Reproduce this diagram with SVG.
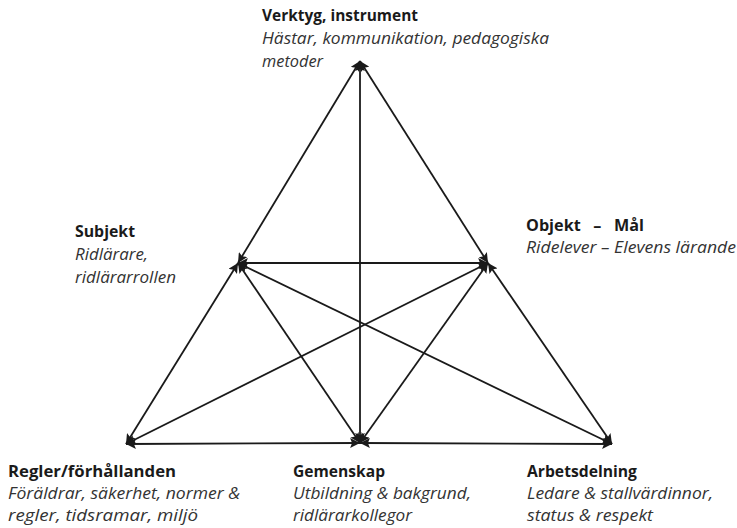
<svg xmlns="http://www.w3.org/2000/svg" width="737" height="528" viewBox="0 0 737 528">
<style>
text{font-family:"Open Sans","Noto Sans","Liberation Sans",sans-serif;font-size:15.5px;fill:#1a1a1a}
.b{font-weight:bold}
.i{font-style:italic;fill:#333}
.c line{stroke:#1a1a1a;stroke-width:1.8;marker-start:url(#ah);marker-end:url(#ah)}
</style>
<defs>
<marker id="ah" viewBox="0 0 10 10" refX="10" refY="5" markerWidth="5.5" markerHeight="5.5" orient="auto-start-reverse" markerUnits="strokeWidth">
<path d="M0,0 L10,5 L0,10 L2,5 Z" fill="#1a1a1a"/>
</marker>
</defs>
<g id="connectors" class="c">
<line x1="360" y1="61" x2="238" y2="263"/>
<line x1="360" y1="61" x2="488" y2="263"/>
<line x1="360" y1="61" x2="360" y2="443"/>
<line x1="238" y1="263" x2="488" y2="263"/>
<line x1="238" y1="263" x2="126" y2="444"/>
<line x1="238" y1="263" x2="360" y2="443"/>
<line x1="238" y1="263" x2="612" y2="444"/>
<line x1="488" y1="263" x2="126" y2="444"/>
<line x1="488" y1="263" x2="360" y2="443"/>
<line x1="488" y1="263" x2="612" y2="444"/>
<line x1="126" y1="444" x2="360" y2="443"/>
<line x1="360" y1="443" x2="612" y2="444"/>
</g>
<g id="verktyg">
<text class="b" x="262" y="21" textLength="156" lengthAdjust="spacingAndGlyphs">Verktyg, instrument</text>
<text class="i" x="262" y="44" textLength="287" lengthAdjust="spacingAndGlyphs">Hästar, kommunikation, pedagogiska</text>
<text class="i" x="262" y="67" textLength="61" lengthAdjust="spacingAndGlyphs">metoder</text>
</g>
<g id="subjekt">
<text class="b" x="75" y="237" textLength="60" lengthAdjust="spacingAndGlyphs">Subjekt</text>
<text class="i" x="75" y="260" textLength="73" lengthAdjust="spacingAndGlyphs">Ridlärare,</text>
<text class="i" x="75" y="283" textLength="101" lengthAdjust="spacingAndGlyphs">ridlärarrollen</text>
</g>
<g id="objekt">
<text class="b" x="526" y="231" textLength="118" lengthAdjust="spacingAndGlyphs" style="white-space:pre">Objekt   –   Mål</text>
<text class="i" x="526" y="253" textLength="210" lengthAdjust="spacingAndGlyphs">Ridelever – Elevens lärande</text>
</g>
<g id="regler">
<text class="b" x="8" y="477" textLength="168" lengthAdjust="spacingAndGlyphs">Regler/förhållanden</text>
<text class="i" x="8" y="499" textLength="232" lengthAdjust="spacingAndGlyphs">Föräldrar, säkerhet, normer &amp;</text>
<text class="i" x="8" y="521" textLength="190" lengthAdjust="spacingAndGlyphs">regler, tidsramar, miljö</text>
</g>
<g id="gemenskap">
<text class="b" x="293" y="477" textLength="92" lengthAdjust="spacingAndGlyphs">Gemenskap</text>
<text class="i" x="293" y="499" textLength="178" lengthAdjust="spacingAndGlyphs">Utbildning &amp; bakgrund,</text>
<text class="i" x="293" y="521" textLength="119" lengthAdjust="spacingAndGlyphs">ridlärarkollegor</text>
</g>
<g id="arbetsdelning">
<text class="b" x="527" y="477" textLength="110" lengthAdjust="spacingAndGlyphs">Arbetsdelning</text>
<text class="i" x="527" y="499" textLength="186" lengthAdjust="spacingAndGlyphs">Ledare &amp; stallvärdinnor,</text>
<text class="i" x="527" y="521" textLength="126" lengthAdjust="spacingAndGlyphs">status &amp; respekt</text>
</g>
</svg>
